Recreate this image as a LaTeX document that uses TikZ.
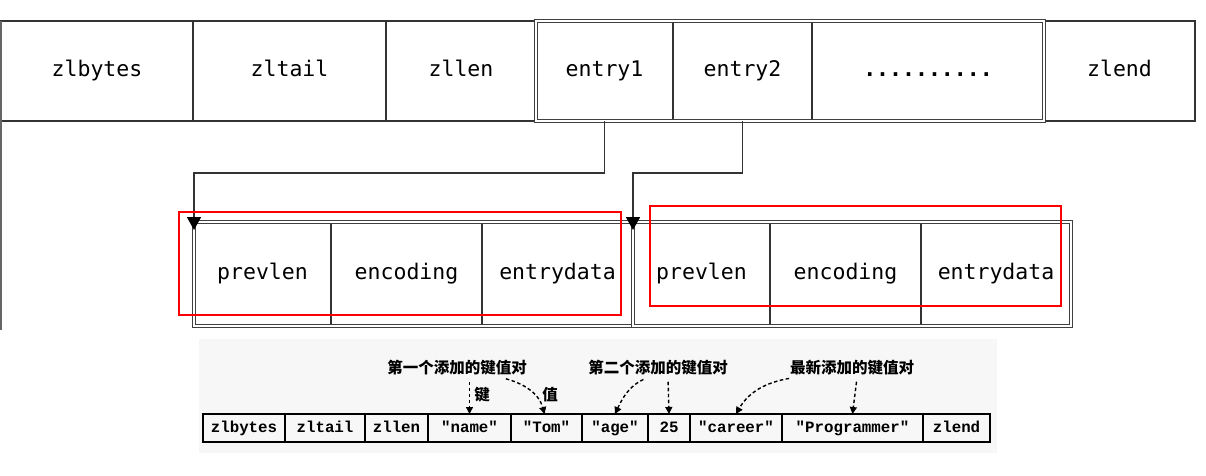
\documentclass[tikz,border=0pt]{standalone}
\usepackage{fontspec}
\newfontfamily\topfont{DejaVu Sans Mono}
\newfontfamily\bfont{Liberation Mono}
\newfontfamily\cjk{Noto Sans CJK SC}
\usetikzlibrary{arrows.meta}
\begin{document}
\begin{tikzpicture}[x=1pt,y=-1pt,
  cell/.style={draw=black!80, line width=2pt, inner sep=0pt, outer sep=0pt,
    font=\topfont\fontsize{21.5}{24}\selectfont, minimum height=100pt,
    text height=16pt, text depth=5pt},
  mcell/.style={draw=black!80, line width=1.8pt, inner sep=0pt, outer sep=0pt,
    font=\topfont\fontsize{21.5}{24}\selectfont, minimum height=104pt,
    text height=16pt, text depth=5pt},
  grp/.style={draw=black!75, line width=1.3pt, double=white, double distance=1.5pt,
    inner sep=0pt, outer sep=0pt},
  conn/.style={draw=black!80, line width=1.6pt, -{Triangle[length=13pt,width=14pt,color=black]},
    shorten >=-8pt},
  redbox/.style={draw=red, line width=2.2pt, inner sep=0pt, outer sep=0pt},
  bcell/.style={draw=black, line width=2pt, inner sep=0pt, outer sep=0pt,
    font=\bfont\bfseries\fontsize{15.8}{18}\selectfont, minimum height=28pt,
    text height=11pt, text depth=3pt},
  lab/.style={font=\cjk\bfseries\fontsize{15.5}{18}\selectfont, inner sep=2pt},
  darr/.style={draw=black, line width=1.4pt, dash pattern=on 3.5pt off 2.5pt,
    -{Triangle[length=7pt,width=7pt]}, shorten <=4pt}
]
\useasboundingbox (0,0) rectangle (1206,475);

% ---- top row ----
\node[cell, minimum width=192pt] (zlbytes) at (97,71) {zlbytes};
\node[cell, minimum width=193pt] (zltail) at (289.5,71) {zltail};
\node[cell, minimum width=150pt] (zllen) at (461,71) {zllen};
\node[cell, minimum width=137pt] (entry1) at (604.5,71) {entry1};
\node[cell, minimum width=139pt] (entry2) at (742.5,71) {entry2};
\node[cell, minimum width=232pt] (dots) at (928,71) {\bfseries ..........};
\node[cell, minimum width=151pt] (zlend) at (1119.5,71) {zlend};
\node[grp, minimum width=508pt, minimum height=100pt] (eg) at (790,71) {};

\draw[black!60, line width=1.2pt] (zlbytes.north west) -- ++(0,309);

% ---- middle entries ----
\node[mcell, minimum width=137pt] (prevlen1) at (262.5,274) {prevlen};
\node[mcell, minimum width=151pt] (encoding1) at (406.5,274) {encoding};
\node[mcell, minimum width=151pt] (entrydata1) at (557.5,274) {entrydata};
\node[mcell, minimum width=137pt] (prevlen2) at (701.5,274) {prevlen};
\node[mcell, minimum width=151pt] (encoding2) at (845.5,274) {encoding};
\node[mcell, minimum width=150pt] (entrydata2) at (996,274) {entrydata};
\node[grp, minimum width=439pt, minimum height=104pt] (g1) at (413.5,274) {};
\node[grp, minimum width=438pt, minimum height=104pt] (g2) at (852,274) {};

\draw[conn] (entry1.south) -- ++(0,52) -| (g1.north west);
\draw[conn] (entry2.south) -- ++(0,52) -| (g2.north west);

\node[redbox, minimum width=442pt, minimum height=103pt] (r1) at (400,263.5) {};
\node[redbox, minimum width=411pt, minimum height=100pt] (r2) at (855.5,256) {};

% ---- bottom figure ----
\fill[black!3] (199,339) rectangle (997,453);
\node[bcell, minimum width=82pt] (b1) at (244,428) {zlbytes};
\node[bcell, minimum width=80pt] (b2) at (325,428) {zltail};
\node[bcell, minimum width=63pt] (b3) at (396.5,428) {zllen};
\node[bcell, minimum width=83pt] (b4) at (469.5,428) {"name"};
\node[bcell, minimum width=71pt] (b5) at (546.5,428) {"Tom"};
\node[bcell, minimum width=66pt] (b6) at (615,428) {"age"};
\node[bcell, minimum width=42pt] (b7) at (669,428) {25};
\node[bcell, minimum width=92pt] (b8) at (736,428) {"career"};
\node[bcell, minimum width=141pt] (b9) at (852.5,428) {"Programmer"};
\node[bcell, minimum width=67pt] (b10) at (956.5,428) {zlend};

\node[lab] (L1) at (457,368) {第一个添加的键值对};
\node[lab] (L2) at (658,368) {第二个添加的键值对};
\node[lab] (L3) at (852,368) {最新添加的键值对};
\node[lab] (kj) at (482,395) {键};
\node[lab] (zv) at (550,395) {值};

\draw[darr] (b4.north |- L1.south) -- (b4.north);
\draw[darr] ([xshift=45pt]L1.south) to[out=-15, in=105] ([xshift=-2pt]b5.north);
\draw[darr] ([xshift=-11pt]L2.south) to[out=205, in=65] (b6.north);
\draw[darr] ([xshift=10pt]L2.south) -- (b7.north);
\draw[darr] ([xshift=-59pt]L3.south) to[out=190, in=60] (b8.north);
\draw[darr] ([xshift=5pt]L3.south) -- (b9.north);
\end{tikzpicture}
\end{document}
